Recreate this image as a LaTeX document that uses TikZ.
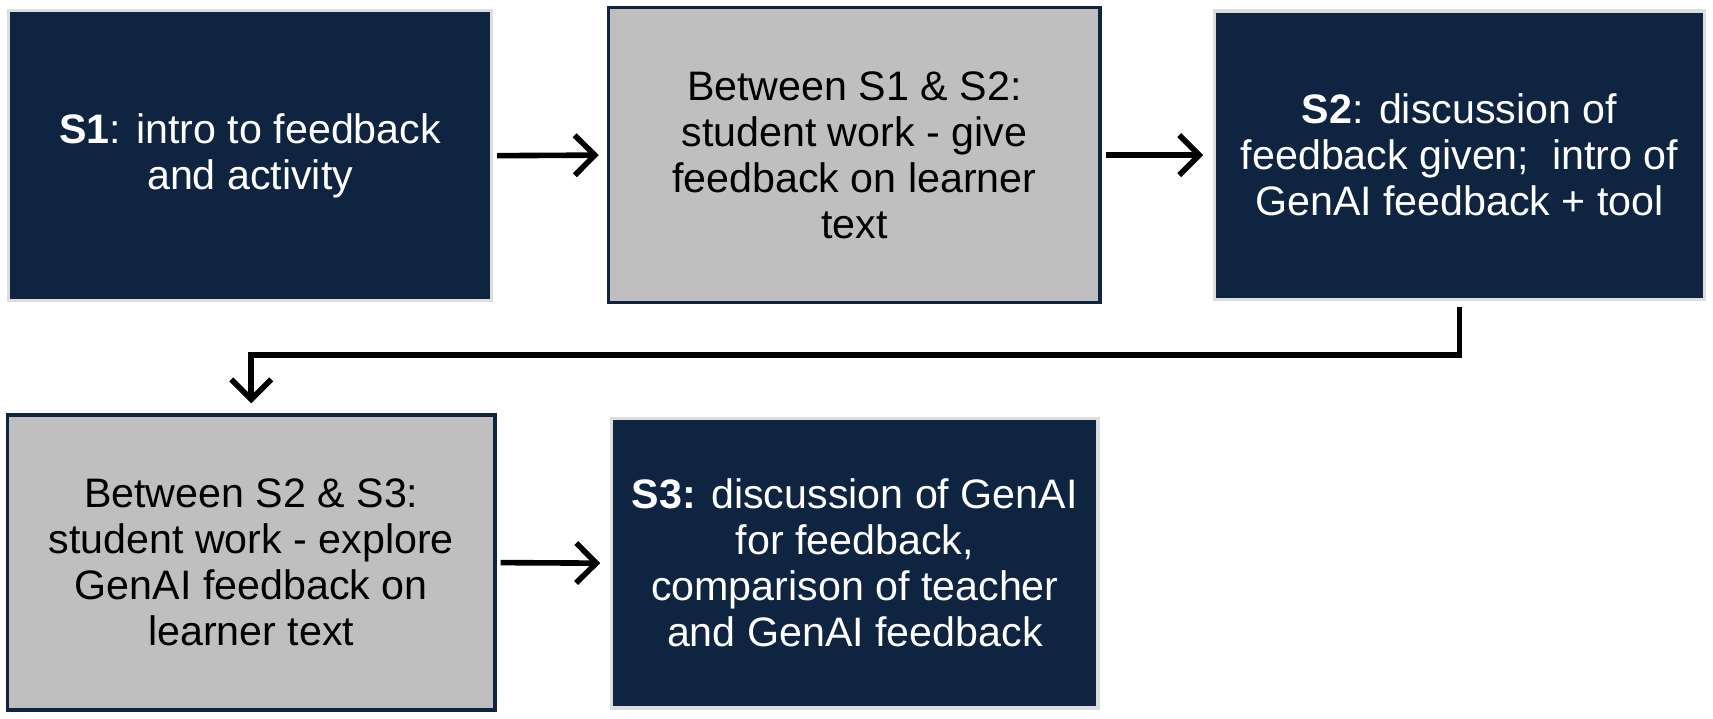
\documentclass[tikz,border=0pt]{standalone}
\usepackage{fontspec}
\setmainfont{Liberation Sans}
\usetikzlibrary{arrows.meta}
\definecolor{navy}{HTML}{0E2440}
\definecolor{boxgray}{HTML}{BFBFBF}
\definecolor{rimgray}{HTML}{DDDDDD}
\tikzset{
  darkbox/.style={rectangle, fill=navy, draw=rimgray, line width=1.6pt, text=white, align=center,
    font=\fontsize{20.6}{23}\selectfont, inner sep=0pt},
  graybox/.style={rectangle, fill=boxgray, draw=navy, line width=1.8pt, text=black, align=center,
    font=\fontsize{20.6}{23}\selectfont, inner sep=0pt},
  flow/.style={line width=2.8pt, draw=black, -{Straight Barb[length=10pt,width=20pt,line width=2.8pt]}}
}
\begin{document}
\begin{tikzpicture}[x=0.54624pt,y=-0.54624pt]
\useasboundingbox[fill=white] (0,0) rectangle (1568,658.1);
\node[darkbox, minimum width=241.4pt, minimum height=144.8pt] (s1) at (229,142.5)
  {\textbf{S1}: intro to feedback\\and activity};
\node[graybox, minimum width=245.8pt, minimum height=147.5pt] (g1) at (782,142)
  {Between S1 \& S2:\\student work - give\\feedback on learner\\text};
\node[darkbox, minimum width=244.7pt, minimum height=144.2pt] (s2) at (1336,142)
  {\textbf{S2}: discussion of\\feedback given;\ \ intro of\\GenAI feedback + tool};
\node[graybox, minimum width=243.6pt, minimum height=147.5pt] (g2) at (230,515)
  {Between S2 \& S3:\\student work - explore\\GenAI feedback on\\learner text};
\node[darkbox, minimum width=243.1pt, minimum height=144.8pt] (s3) at (782.5,515.5)
  {\textbf{S3:} discussion of GenAI\\for feedback,\\comparison of teacher\\and GenAI feedback};
\coordinate (mid) at (784,325);
\draw[flow] ([xshift=2pt]s1.east) -- ([xshift=-4pt]g1.west);
\draw[flow] ([xshift=2pt]g1.east) -- ([xshift=-5pt]s2.west);
\draw[flow] ([xshift=2pt]g2.east) -- ([xshift=-5pt]s3.west);
\draw[flow] ([yshift=-3pt]s2.south) |- (mid) -| ([yshift=5pt]g2.north);
\end{tikzpicture}
\end{document}
